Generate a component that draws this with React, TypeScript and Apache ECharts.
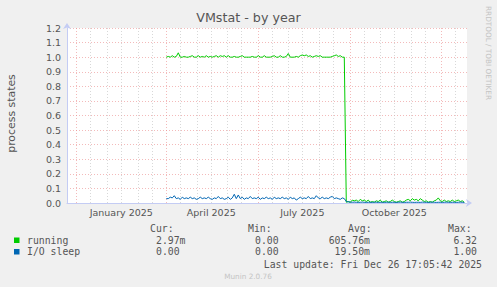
import React, { useEffect, useRef } from 'react';
import * as echarts from 'echarts';

const TITLE = 'VMstat - by year';
const Y_NAME = 'process states';
const WATERMARK = 'RRDTOOL / TOBI OETIKER';
const LAST_UPDATE = 'Last update: Fri Dec 26 17:05:42 2025';
const FOOTER = 'Munin 2.0.76';

const X_START = '2024-11-21T17:05:42Z';
const X_END = '2025-12-26T17:05:42Z';
const SERIES_START = '2025-03-01T00:00:00Z';
const STEP_DAYS = 2;

const Y_MIN = 0;
const Y_MAX = 1.2;
const Y_STEP = 0.1;

const xLabelDates = ['2025-01-15', '2025-04-15', '2025-07-15', '2025-10-15'];
const xLabelTexts = ['January 2025', 'April 2025', 'July 2025', 'October 2025'];
const majorGridDates = ['2024-12-01', '2025-03-01', '2025-06-01', '2025-09-01', '2025-12-01'];
const minorGridDates = [
  '2024-12-15', '2025-01-01', '2025-01-15', '2025-02-01', '2025-02-15', '2025-03-15',
  '2025-04-01', '2025-04-15', '2025-05-01', '2025-05-15', '2025-06-15', '2025-07-01',
  '2025-07-15', '2025-08-01', '2025-08-15', '2025-09-15', '2025-10-01', '2025-10-15',
  '2025-11-01', '2025-11-15', '2025-12-15',
];

const runningValues = [
  1.0, 1.005, 1.0, 1.01, 1.0, 1.005, 1.03, 1.0, 1.0, 1.005,
  1.0, 1.0, 1.005, 1.01, 1.0, 1.0, 1.01, 1.0, 1.005, 1.0,
  1.01, 1.0, 1.005, 1.0, 1.005, 1.01, 1.0, 1.01, 1.005, 1.01,
  1.0, 1.01, 1.0, 1.0, 1.005, 1.0, 1.0, 1.005, 1.01, 1.0,
  1.0, 1.0, 1.0, 1.005, 1.0, 1.0, 1.01, 1.0, 1.0, 1.01,
  1.0, 1.0, 1.0, 1.005, 1.01, 1.0, 1.0, 1.01, 1.0, 1.0,
  1.005, 1.025, 1.0, 1.0, 1.0, 1.005, 1.0, 1.01, 1.015, 1.01,
  1.015, 1.005, 1.01, 1.0, 1.005, 1.01, 1.005, 1.01, 1.0, 1.0,
  1.0, 1.0, 1.0, 1.005, 1.01, 1.015, 1.005, 1.01, 1.0, 1.0,
  0.005, 0.01, 0.005, 0.02, 0.015, 0.02, 0.01, 0.025, 0.015, 0.02,
  0.01, 0.02, 0.005, 0.01, 0.005, 0.015, 0.01, 0.02, 0.005, 0.01,
  0.015, 0.005, 0.01, 0.02, 0.01, 0.005, 0.01, 0.015, 0.005, 0.01,
  0.02, 0.025, 0.015, 0.03, 0.02, 0.025, 0.015, 0.03, 0.02, 0.01,
  0.015, 0.005, 0.01, 0.005, 0.015, 0.02, 0.035, 0.015, 0.01, 0.02,
  0.01, 0.015, 0.01, 0.02, 0.01, 0.015, 0.02, 0.01, 0.015, 0.005,
];

const ioSleepValues = [
  0.03, 0.03, 0.04, 0.035, 0.05, 0.03, 0.035, 0.025, 0.04, 0.03,
  0.035, 0.03, 0.04, 0.03, 0.035, 0.025, 0.03, 0.04, 0.03, 0.035,
  0.03, 0.04, 0.03, 0.025, 0.035, 0.03, 0.045, 0.03, 0.035, 0.025,
  0.03, 0.04, 0.025, 0.035, 0.06, 0.03, 0.055, 0.03, 0.04, 0.025,
  0.035, 0.03, 0.045, 0.03, 0.035, 0.03, 0.04, 0.025, 0.035, 0.03,
  0.04, 0.03, 0.035, 0.025, 0.04, 0.03, 0.035, 0.03, 0.04, 0.03,
  0.035, 0.025, 0.04, 0.03, 0.035, 0.02, 0.03, 0.04, 0.03, 0.035,
  0.03, 0.045, 0.03, 0.035, 0.03, 0.05, 0.035, 0.03, 0.04, 0.03,
  0.035, 0.03, 0.04, 0.045, 0.03, 0.035, 0.03, 0.025, 0.035, 0.03,
  0.01, 0.008, 0.006, 0.005, 0.006, 0.005, 0.004, 0.005, 0.006, 0.005,
  0.004, 0.005, 0.005, 0.004, 0.006, 0.005, 0.004, 0.005, 0.005, 0.004,
  0.005, 0.006, 0.004, 0.005, 0.005, 0.004, 0.005, 0.006, 0.005, 0.004,
  0.005, 0.005, 0.006, 0.005, 0.004, 0.005, 0.005, 0.004, 0.006, 0.005,
  0.005, 0.004, 0.005, 0.006, 0.005, 0.004, 0.005, 0.005, 0.004, 0.005,
  0.006, 0.005, 0.004, 0.005, 0.005, 0.004, 0.005, 0.006, 0.005, 0.004,
];

const seriesNames = ['running', 'I/O sleep'];
const seriesColors = ['#00CC00', '#0066B3'];
const statHeaders = ['Cur:', 'Min:', 'Avg:', 'Max:'];
const statRows = [
  ['2.97m', '0.00', '605.76m', '6.32'],
  ['0.00', '0.00', '19.50m', '1.00'],
];

const DAY = 86400000;
const ts = (s: string) => new Date(s.length === 10 ? s + 'T00:00:00Z' : s).getTime();

const FONT = 'DejaVu Sans';
const MONO = 'DejaVu Sans Mono';
const TEXT_COLOR = '#555555';

export default function App() {
  const ref = useRef<HTMLDivElement>(null);

  useEffect(() => {
    if (!ref.current) return;
    const chart = echarts.init(ref.current, undefined, { renderer: 'svg' });
    const start = ts(SERIES_START);
    const toData = (vals: number[]) => vals.map((v, i) => [start + i * STEP_DAYS * DAY, v]);
    const labelTs = xLabelDates.map(ts);

    const monoStyle = { fontFamily: MONO, fontSize: 9.8, fill: TEXT_COLOR };
    const headerX = [150, 248, 348, 448];
    const rowY = [240, 251.5];
    const graphics: any[] = [
      {
        type: 'text', left: 'center', top: 11,
        style: { text: TITLE, fontFamily: FONT, fontSize: 12.7, fill: TEXT_COLOR },
      },
      {
        type: 'text', x: 11.5, y: 113.5, rotation: Math.PI / 2,
        style: { text: Y_NAME, fontFamily: FONT, fontSize: 10.9, fill: TEXT_COLOR, align: 'center', verticalAlign: 'middle' },
      },
      {
        type: 'text', x: 488.5, y: 53, rotation: -Math.PI / 2,
        style: { text: WATERMARK, fontFamily: FONT, fontSize: 7.3, fill: '#c4c4c4', align: 'center', verticalAlign: 'middle' },
      },
      {
        type: 'text', x: 482, y: 264,
        style: { ...monoStyle, text: LAST_UPDATE, align: 'right', verticalAlign: 'middle' },
      },
      {
        type: 'text', x: 248, y: 276,
        style: { text: FOOTER, fontFamily: FONT, fontSize: 7.3, fill: '#c4c4c4', align: 'center', verticalAlign: 'middle' },
      },
    ];
    statHeaders.forEach((h, i) => {
      graphics.push({
        type: 'text', x: headerX[i], y: 228,
        style: { ...monoStyle, text: h, align: 'left', verticalAlign: 'middle' },
      });
    });
    seriesNames.forEach((n, r) => {
      graphics.push({
        type: 'rect', shape: { x: 14, y: rowY[r] - 2.5, width: 5.5, height: 5.5 },
        style: { fill: seriesColors[r] },
      });
      graphics.push({
        type: 'text', x: 27, y: rowY[r],
        style: { ...monoStyle, text: n, align: 'left', verticalAlign: 'middle' },
      });
      const vals = statRows[r];
      const pos: [number, string][] = [[156, 'left'], [255, 'left'], [370, 'right'], [477, 'right']];
      vals.forEach((v, c) => {
        graphics.push({
          type: 'text', x: pos[c][0], y: rowY[r],
          style: { ...monoStyle, text: v, align: pos[c][1], verticalAlign: 'middle' },
        });
      });
    });

    const axisColor = '#c4ccf4';
    const majorColor = 'rgba(235,140,140,0.6)';
    const minorColor = 'rgba(190,190,190,0.6)';
    const option: any = {
      animation: false,
      backgroundColor: '#f0f0f0',
      grid: {
        left: 67, right: 30, top: 28, bottom: 84,
        show: true, backgroundColor: '#ffffff', borderWidth: 0,
      },
      xAxis: [
        {
          type: 'value',
          min: ts(X_START),
          max: ts(X_END),
          axisLine: {
            show: true,
            lineStyle: { color: axisColor, width: 1 },
            symbol: ['none', 'arrow'],
            symbolSize: [6, 6],
            symbolOffset: [0, 5],
          },
          axisTick: { show: false, customValues: minorGridDates.map(ts) },
          axisLabel: {
            customValues: labelTs,
            formatter: (v: number) => {
              const i = labelTs.indexOf(v);
              return i >= 0 ? xLabelTexts[i] : '';
            },
            color: TEXT_COLOR,
            fontFamily: FONT,
            fontSize: 9.5,
            margin: 4,
            hideOverlap: false,
          },
          splitLine: {
            show: true,
            lineStyle: { color: minorColor, type: [1, 2], width: 1 },
          },
          z: 1,
        },
        {
          type: 'value',
          min: ts(X_START),
          max: ts(X_END),
          position: 'bottom',
          axisLine: { show: false },
          axisTick: { show: false, customValues: majorGridDates.map(ts) },
          axisLabel: { show: false },
          splitLine: {
            show: true,
            lineStyle: { color: majorColor, type: [1, 2], width: 1 },
          },
        },
      ],
      yAxis: {
        type: 'value',
        min: Y_MIN,
        max: Y_MAX,
        interval: Y_STEP,
        axisLine: {
          show: true,
          lineStyle: { color: axisColor, width: 1 },
          symbol: ['none', 'arrow'],
          symbolSize: [6, 6],
          symbolOffset: [0, 5],
        },
        axisTick: { show: false },
        axisLabel: {
          formatter: (v: number) => v.toFixed(1),
          color: TEXT_COLOR,
          fontFamily: FONT,
          fontSize: 9.5,
          margin: 6,
        },
        splitLine: {
          show: true,
          lineStyle: { color: majorColor, type: [1, 2], width: 1 },
        },
      },
      series: [
        {
          name: seriesNames[0], type: 'line', xAxisIndex: 0, data: toData(runningValues),
          showSymbol: false, symbol: 'none', lineStyle: { color: seriesColors[0], width: 1 },
          itemStyle: { color: seriesColors[0] }, z: 3,
        },
        {
          name: seriesNames[1], type: 'line', xAxisIndex: 0, data: toData(ioSleepValues),
          showSymbol: false, symbol: 'none', lineStyle: { color: seriesColors[1], width: 1 },
          itemStyle: { color: seriesColors[1] }, z: 4,
        },
      ],
      graphic: graphics,
    };
    chart.setOption(option);
    return () => chart.dispose();
  }, []);

  return (
    <div
      ref={ref}
      style={{ position: 'absolute', left: 0, top: 0, width: 497, height: 287 }}
    />
  );
}
